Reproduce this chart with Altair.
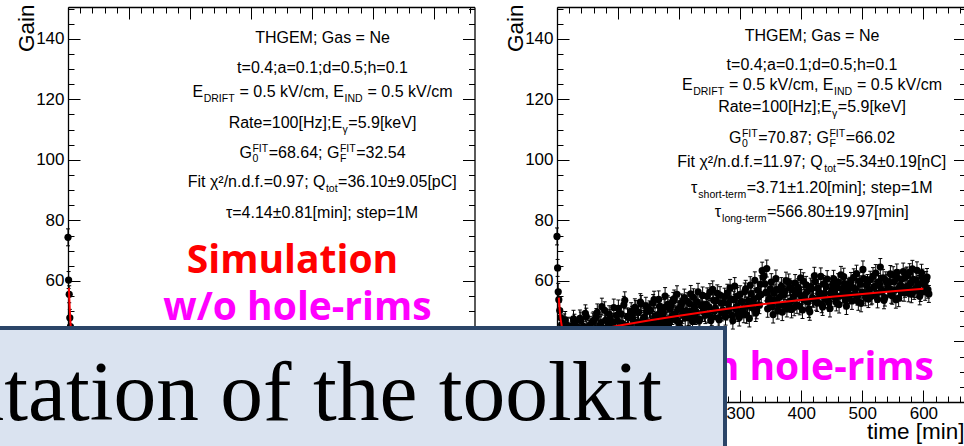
import altair as alt
import pandas as pd

# ---------------- data ----------------
# Gain vs. time, simulation without hole rims (left) and with hole rims (right)
left_time = [0, 1, 2, 3, 4, 5, 6, 8, 10, 12, 15, 20] + list(range(30, 616, 15))
left_gain = [74.4, 60.3, 55.6, 47.8, 44.9, 41.2, 39.0, 36.6, 34.9, 33.8, 33.0, 32.6,
             33.1, 31.4, 34.6, 30.2, 32.9, 35.3, 31.7, 29.8, 33.5, 32.0,
             34.9, 30.8, 33.3, 31.1, 35.8, 32.4, 29.5, 33.9, 31.9, 34.2,
             30.5, 32.7, 36.1, 31.3, 33.0, 29.9, 34.4, 32.2, 30.9, 35.0,
             31.6, 33.7, 30.1, 32.8, 34.7, 31.0, 33.4, 29.7, 32.5, 35.4]
left_fit_time = [1.5, 2, 3, 4, 5, 6, 8, 10, 14, 20, 30, 60, 610]
left_fit_gain = [57.7, 54.9, 50.1, 46.4, 43.4, 41.1, 37.8, 35.8, 33.8, 32.8, 32.6, 32.54, 32.54]

right_time = [0, 1, 2] + list(range(3, 610, 3))
right_gain = [
    74.7, 64.3, 56.4,
    53.8, 47.9, 44.1, 46.3, 41.0, 45.2, 39.8, 43.9, 47.5, 42.6,
    44.8, 40.7, 46.9, 43.1, 39.6, 48.2, 42.0, 45.5, 41.3, 47.0,
    43.9, 49.6, 41.8, 46.2, 44.4, 50.3, 40.9, 45.8, 47.7, 42.5,
    51.2, 44.0, 46.8, 42.7, 49.1, 45.3, 53.6, 43.5, 47.9, 45.0,
    48.8, 42.9, 50.7, 46.3, 44.6, 52.4, 47.4, 45.1, 49.9, 43.8,
    50.2, 46.5, 53.8, 44.7, 48.9, 51.6, 46.1, 49.3, 55.0, 47.2,
    45.9, 51.8, 48.4, 54.2, 47.0, 50.6, 44.8, 52.9, 49.5, 47.8,
    53.3, 48.1, 55.7, 46.6, 51.2, 49.8, 56.4, 47.3, 52.0, 50.5,
    48.7, 54.9, 51.4, 46.9, 57.2, 50.1, 53.5, 47.8, 55.3, 49.6,
    52.8, 48.2, 56.1, 50.7, 54.0, 46.9, 58.3, 51.5, 49.4, 55.6,
    53.2, 49.0, 57.4, 51.9, 47.6, 55.8, 52.6, 60.2, 50.3, 54.7,
    58.9, 63.4, 61.7, 56.2, 50.8, 54.3, 59.6, 48.9, 53.7, 57.1,
    51.9, 56.8, 49.7, 55.4, 60.1, 52.5, 57.9, 50.6, 54.8, 59.3,
    52.1, 56.6, 61.0, 50.4, 55.2, 58.7, 53.0, 49.8, 57.5, 54.1,
    59.8, 52.7, 56.3, 61.5, 51.4, 55.9, 58.2, 53.6, 50.9, 57.0,
    60.7, 54.3, 57.8, 52.2, 62.0, 55.5, 59.1, 51.7, 56.9, 58.4,
    53.4, 61.2, 57.3, 54.8, 59.9, 52.6, 63.8, 56.1, 58.6, 54.0,
    60.4, 55.2, 57.9, 62.6, 53.9, 58.8, 56.4, 61.0, 54.5, 59.4,
    57.6, 62.3, 55.1, 59.7, 53.8, 60.9, 58.0, 56.2, 63.1, 57.4,
    61.8, 55.9, 59.2, 64.0, 56.7, 60.3, 58.5, 54.9, 62.7, 59.8,
    56.4, 61.3, 55.7,
]
# second readout, interleaved half a step later
right_time_b = [t + 1.5 for t in range(3, 607, 3)]
right_gain_b = [
    50.2, 45.6, 42.8, 47.1, 43.5, 40.6, 44.9, 42.0, 46.2, 39.9,
    43.7, 47.6, 41.5, 45.0, 49.3, 42.4, 44.1, 40.8, 46.6, 43.2,
    48.1, 42.2, 45.4, 51.5, 43.8, 47.0, 44.0, 49.0, 41.7, 46.4,
    44.3, 48.6, 50.9, 43.2, 46.0, 52.1, 44.8, 48.3, 42.6, 50.0,
    47.2, 51.3, 44.4, 49.6, 53.0, 45.7, 48.0, 51.8, 46.4, 50.6,
    45.6, 52.7, 48.5, 46.0, 53.9, 49.8, 47.5, 51.1, 45.3, 52.3,
    50.9, 47.4, 53.4, 49.2, 55.6, 46.3, 51.5, 48.8, 54.5, 50.2,
    47.9, 52.5, 50.0, 54.6, 48.4, 53.1, 46.8, 51.9, 55.2, 49.4,
    52.3, 49.0, 56.3, 48.0, 53.6, 51.0, 55.9, 47.2, 52.7, 50.4,
    54.8, 49.9, 52.4, 57.7, 48.6, 53.8, 50.8, 55.0, 47.9, 53.0,
    50.6, 56.5, 48.8, 53.5, 58.6, 51.2, 54.1, 49.4, 56.9, 52.0,
    55.5, 61.2, 59.0, 64.1, 53.3, 57.4, 51.5, 55.9, 60.8, 50.2,
    54.6, 58.3, 52.0, 56.7, 50.9, 59.5, 53.4, 57.2, 51.3, 55.8,
    57.9, 51.6, 55.0, 59.9, 53.7, 56.5, 50.7, 58.1, 54.4, 61.7,
    53.1, 57.6, 55.1, 52.3, 59.0, 54.0, 60.6, 52.8, 56.0, 58.9,
    56.2, 52.9, 59.6, 55.0, 57.5, 61.4, 53.6, 58.1, 55.3, 60.0,
    57.8, 55.6, 62.4, 53.1, 58.9, 56.3, 60.8, 54.6, 59.3, 57.0,
    54.9, 61.6, 58.2, 55.8, 59.7, 64.6, 56.9, 53.6, 60.2, 57.5,
    59.6, 55.4, 61.9, 57.0, 62.8, 54.3, 58.6, 60.7, 56.1, 61.5,
    58.2, 62.9, 55.6, 60.5, 57.3, 63.5, 59.0, 56.0, 61.1, 58.7,
    60.3, 57.1,
]
right_fit_time = [3, 4, 5, 6, 8, 10, 15, 20, 40, 70, 100, 150, 200, 250, 300,
                  350, 400, 450, 500, 550, 600]
right_fit_gain = [54.5, 51.4, 49.1, 47.3, 44.8, 43.4, 42.3, 42.1, 42.8, 44.0, 45.2,
                  46.9, 48.5, 50.0, 51.4, 52.6, 53.7, 54.8, 55.7, 56.6, 57.4]
GAIN_ERR = 2.8

x_ticks_major = [0, 100, 200, 300, 400, 500, 600]
y_ticks_major = [20, 40, 60, 80, 100, 120, 140]
x_ticks_minor = [v for v in range(20, 661, 20) if v % 100]
y_ticks_minor = [v for v in range(25, 151, 5) if v % 20]

# Fit-result boxes (text segments: normal / subscript / sub+superscript)
left_box = [
    [("n", "THGEM; Gas = Ne")],
    [("n", "t=0.4;a=0.1;d=0.5;h=0.1")],
    [("n", "E"), ("sub", "DRIFT"), ("n", " = 0.5 kV/cm, E"), ("sub", "IND"), ("n", " = 0.5 kV/cm")],
    [("n", "Rate=100[Hz];E"), ("sub", "γ"), ("n", "=5.9[keV]")],
    [("n", "G"), ("subsup", "0", "FIT"), ("n", "=68.64; G"), ("subsup", "F", "FIT"), ("n", "=32.54")],
    [("n", "Fit χ²/n.d.f.=0.97; Q"), ("sub", "tot"), ("n", "=36.10±9.05[pC]")],
    [("n", "τ=4.14±0.81[min]; step=1M")],
]
right_box = [
    [("n", "THGEM; Gas = Ne")],
    [("n", "t=0.4;a=0.1;d=0.5;h=0.1")],
    [("n", "E"), ("sub", "DRIFT"), ("n", " = 0.5 kV/cm, E"), ("sub", "IND"), ("n", " = 0.5 kV/cm")],
    [("n", "Rate=100[Hz];E"), ("sub", "γ"), ("n", "=5.9[keV]")],
    [("n", "G"), ("subsup", "0", "FIT"), ("n", "=70.87; G"), ("subsup", "F", "FIT"), ("n", "=66.02")],
    [("n", "Fit χ²/n.d.f.=11.97; Q"), ("sub", "tot"), ("n", "=5.34±0.19[nC]")],
    [("n", "τ"), ("sub", "short-term"), ("n", "=3.71±1.20[min]; step=1M")],
    [("n", "τ"), ("sub", "long-term"), ("n", "=566.80±19.97[min]")],
]

# ---------------- layout ----------------
W, H = 964, 446
FRAME_TOP, FRAME_BOTTOM = 7, 402
FONT = "Liberation Sans"
BLACK = "#000000"

ARIAL_W = {
    " ": 278, "(": 333, ")": 333, "+": 584, ",": 278, "-": 333, ".": 278, "/": 278,
    ":": 278, ";": 278, "=": 584, "[": 278, "]": 278, "±": 584, "²": 333,
    "χ": 520, "γ": 500, "τ": 430,
    "A": 667, "B": 667, "C": 722, "D": 722, "E": 667, "F": 611, "G": 778, "H": 722,
    "I": 278, "J": 500, "K": 667, "L": 556, "M": 833, "N": 722, "O": 778, "P": 667,
    "Q": 778, "R": 722, "S": 667, "T": 611, "U": 722, "V": 667, "W": 944, "X": 667,
    "a": 556, "b": 556, "c": 500, "d": 556, "e": 556, "f": 278, "g": 556, "h": 556,
    "i": 222, "j": 222, "k": 500, "l": 222, "m": 833, "n": 556, "o": 556, "p": 556,
    "q": 556, "r": 333, "s": 500, "t": 278, "u": 556, "v": 500, "w": 722, "x": 500,
    "y": 500, "z": 500,
}


def text_width(s, size):
    return sum(ARIAL_W.get(c, 556) for c in s) * size / 1000.0


def layout_box(lines, cx, baselines, main=16, small=10.5, sub_dy=5, sup_dy=-6.5):
    rows = []

    def seg_w(seg):
        if seg[0] == "n":
            return text_width(seg[1], main)
        if seg[0] == "sub":
            return text_width(seg[1], small) + 1
        return max(text_width(seg[1], small), text_width(seg[2], small)) + 1

    def put(x, y, s, size):
        lead = len(s) - len(s.lstrip(" "))
        rows.append({"px": x + lead * ARIAL_W[" "] * size / 1000.0, "py": y,
                     "text": s.strip(" "), "size": size})

    for segs, by in zip(lines, baselines):
        x = cx - sum(seg_w(s) for s in segs) / 2.0
        for seg in segs:
            if seg[0] == "n":
                put(x, by, seg[1], main)
            elif seg[0] == "sub":
                put(x + 0.5, by + sub_dy, seg[1], small)
            else:
                put(x + 0.5, by + sub_dy - 1, seg[1], small)
                put(x + 0.5, by + sup_dy, seg[2], small)
            x += seg_w(seg)
    return rows


AXIS_DF = pd.DataFrame({"v": [0]})


def axis_layer(channel, scale, **kw):
    ax = alt.Axis(grid=False, tickColor=BLACK, tickWidth=1, domainColor=BLACK,
                  domainWidth=1.3, labelFont=FONT, labelFontSize=17, labelColor=BLACK,
                  titleFont=FONT, titleFontSize=22.5, titleFontWeight="normal",
                  titleColor=BLACK, labelOverlap=False, **kw)
    base = alt.Chart(AXIS_DF).mark_point(opacity=0)
    if channel == "x":
        return base.encode(x=alt.X("v:Q", scale=scale, axis=ax))
    return base.encode(y=alt.Y("v:Q", scale=scale, axis=ax))


def ticks_only(channel, scale, orient, offset, values, size, frame=False):
    return axis_layer(channel, scale, orient=orient, offset=offset, values=values,
                      ticks=True, tickSize=size, labels=False, domain=frame, title="")


def panel(time, gain, fit_time, fit_gain, x_left, x_right, x_max):
    xs = alt.Scale(domain=[0, x_max], range=[x_left, x_right], nice=False, zero=False)
    ys = alt.Scale(domain=[20, 150.5], range=[FRAME_BOTTOM, FRAME_TOP], nice=False, zero=False)

    pts = pd.DataFrame({"time": time, "gain": gain})
    pts["lo"] = pts["gain"] - GAIN_ERR
    pts["hi"] = pts["gain"] + GAIN_ERR
    fit = pd.DataFrame({"time": fit_time, "gain": fit_gain})

    def X(f):
        return alt.X(f, type="quantitative", scale=xs, axis=None)

    def Y(f):
        return alt.Y(f, type="quantitative", scale=ys, axis=None)

    bars = alt.Chart(pts).mark_rule(color=BLACK, strokeWidth=1).encode(
        x=X("time"), y=Y("lo"), y2="hi")
    cap_hi = alt.Chart(pts).mark_tick(orient="horizontal", color=BLACK, size=4,
                                      thickness=1, opacity=1).encode(x=X("time"), y=Y("hi"))
    cap_lo = alt.Chart(pts).mark_tick(orient="horizontal", color=BLACK, size=4,
                                      thickness=1, opacity=1).encode(x=X("time"), y=Y("lo"))
    dots = alt.Chart(pts).mark_circle(color=BLACK, size=52, opacity=1).encode(
        x=X("time"), y=Y("gain"))
    curve = alt.Chart(fit).mark_line(color="#ff0000", strokeWidth=2).encode(
        x=X("time"), y=Y("gain"))

    axes = [
        # x axis with labels along the bottom of the frame
        axis_layer("x", xs, orient="bottom", offset=FRAME_BOTTOM - H, values=x_ticks_major,
                   ticks=False, domain=True, labels=True, labelPadding=3, labelFlush=False,
                   title="time [min]", titleAlign="right", titleBaseline="alphabetic",
                   titleX=x_right - 1.5, titleY=36, titleAngle=0),
        ticks_only("x", xs, "top", -FRAME_BOTTOM, x_ticks_major, 12),
        ticks_only("x", xs, "top", -FRAME_BOTTOM, x_ticks_minor, 6),
        # top edge of the frame
        ticks_only("x", xs, "bottom", FRAME_TOP - H, x_ticks_major, 12, frame=True),
        ticks_only("x", xs, "bottom", FRAME_TOP - H, x_ticks_minor, 6),
        # y axis with labels along the left of the frame
        axis_layer("y", ys, orient="left", offset=-x_left, values=y_ticks_major,
                   ticks=False, domain=True, labels=True, labelPadding=4,
                   title="Gain", titleAngle=270, titleAlign="right",
                   titleBaseline="alphabetic", titleX=-35, titleY=4),
        ticks_only("y", ys, "right", x_left - W, y_ticks_major, 12),
        ticks_only("y", ys, "right", x_left - W, y_ticks_minor, 6),
        # right edge of the frame
        ticks_only("y", ys, "left", -x_right, y_ticks_major, 12, frame=True),
        ticks_only("y", ys, "left", -x_right, y_ticks_minor, 6),
    ]
    return alt.layer(*axes, bars, cap_hi, cap_lo, dots, curve).resolve_axis(
        x="independent", y="independent")


left_panel = panel(left_time, left_gain, left_fit_time, left_fit_gain, 68, 474.5, 667)
right_panel = panel(right_time + right_time_b, right_gain + right_gain_b,
                    right_fit_time, right_fit_gain, 557, 965.5, 669)

box_rows = (layout_box(left_box, 322.5, [43, 72.5, 97, 128, 158, 187, 218])
            + layout_box(right_box, 812, [41, 70, 90, 112, 143, 167, 193, 217]))
box_text = alt.Chart(pd.DataFrame(box_rows)).mark_text(
    align="left", baseline="alphabetic", font=FONT, color=BLACK).encode(
    x=alt.X("px:Q", scale=None, axis=None),
    y=alt.Y("py:Q", scale=None, axis=None),
    size=alt.Size("size:Q", scale=None, legend=None),
    text="text:N")

tags = pd.DataFrame({
    "px": [292.5, 297.5, 934],
    "py": [273, 320, 380],
    "text": ["Simulation", "w/o hole-rims", "with hole-rims"],
    "colour": ["#ff0000", "#ff00ff", "#ff00ff"],
    "anchor": ["c", "c", "r"],
})


def tag_layer(anchor, align):
    return alt.Chart(tags).transform_filter(alt.datum.anchor == anchor).mark_text(
        align=align, baseline="alphabetic", font="Open Sans", fontWeight="bold",
        fontSize=39).encode(
        x=alt.X("px:Q", scale=None, axis=None),
        y=alt.Y("py:Q", scale=None, axis=None),
        color=alt.Color("colour:N", scale=None, legend=None),
        text="text:N")


# Slide caption box laid over the lower part of both panels
caption = pd.DataFrame({"text": ["Implementation of the toolkit"]})
caption_box = alt.Chart(caption).mark_rect(
    fill="#dae3f0", stroke="#2b4568", strokeWidth=4).encode(
    x=alt.value(-20), x2=alt.value(725), y=alt.value(328), y2=alt.value(470))
caption_text = alt.Chart(caption).mark_text(
    align="right", baseline="alphabetic", font="Liberation Serif", fontSize=85.5,
    color=BLACK).encode(x=alt.value(662), y=alt.value(420), text="text:N")

chart = alt.layer(
    left_panel, right_panel, box_text,
    tag_layer("c", "center"), tag_layer("r", "right"),
    caption_box, caption_text,
).resolve_scale(x="independent", y="independent").properties(
    width=W, height=H, padding=0, background="white",
    autosize=alt.AutoSizeParams(type="none"),
).configure_view(stroke="transparent")

chart.save("out.html", embed_options={"renderer": "svg", "actions": False})
